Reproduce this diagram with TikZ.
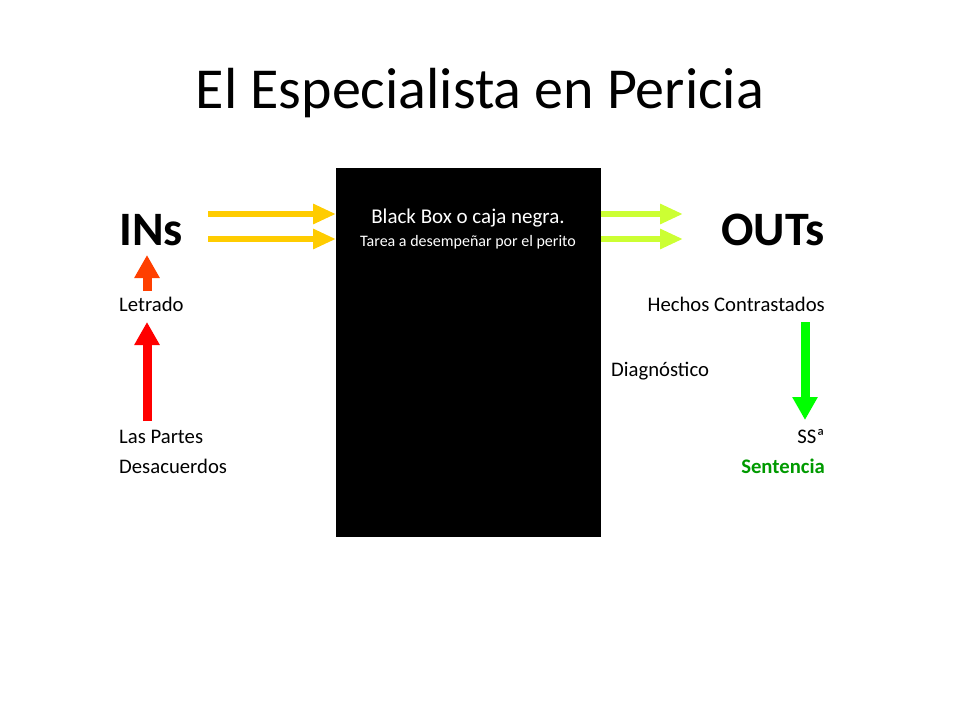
\documentclass[tikz,border=0pt]{standalone}
\usepackage{fontspec}
\setmainfont{Carlito}
\usetikzlibrary{arrows.meta}
\usetikzlibrary{positioning}
\usepackage{xcolor}

\definecolor{amarillo}{HTML}{FFCC00}
\definecolor{lima}{HTML}{CCFF33}
\definecolor{naranja}{HTML}{FF3F00}
\definecolor{rojo}{HTML}{FF0000}
\definecolor{verde}{HTML}{00FF00}
\definecolor{verdeosc}{HTML}{009A00}

\begin{document}
\begin{tikzpicture}[x=1pt, y=-1pt]
        % ================= estilos =================
        \tikzset{
            % textos
            titulo/.style={inner sep=0pt, font=\fontsize{58}{64}\selectfont},
            grande/.style={inner sep=0pt, font=\fontsize{48}{54}\selectfont\bfseries},
            etiqueta/.style={inner sep=0pt, font=\fontsize{20.7}{24}\selectfont},
            cajatxt/.style={inner sep=0pt, text=white, font=\fontsize{21}{24}\selectfont},
            cajasub/.style={inner sep=0pt, text=white, font=\fontsize{16}{19}\selectfont},
            % flechas gruesas
            flecha_h/.style={line width=6pt, -{Triangle[length=23pt, width=19pt]}},
            flecha_v/.style={line width=9pt, -{Triangle[length=23pt, width=24pt]}}
        }

        \useasboundingbox (0,0) rectangle (960,720);

        % ================= caja negra =================
        \fill[black] (336,168) rectangle (601,537);
        \coordinate (caja_w1) at (336,214);
        \coordinate (caja_w2) at (336,239);
        \coordinate (caja_e1) at (601,214);
        \coordinate (caja_e2) at (601,239);

        % ================= coordenadas de flechas =================
        \coordinate (in_1) at (208,214);
        \coordinate (in_2) at (208,239);
        \coordinate (out_1) at (683,214);
        \coordinate (out_2) at (683,239);
        \coordinate (letr_b) at (147,291);
        \coordinate (letr_t) at (147,255);
        \coordinate (part_b) at (147,421);
        \coordinate (part_t) at (147,322);
        \coordinate (hech_t) at (805,322);
        \coordinate (ssa_t) at (805,420);

        % ================= flechas =================
        \draw[flecha_h, amarillo] (in_1) -- (caja_w1);
        \draw[flecha_h, amarillo] (in_2) -- (caja_w2);
        \draw[flecha_h, lima] (caja_e1) -- (out_1);
        \draw[flecha_h, lima] (caja_e2) -- (out_2);
        \draw[flecha_v, naranja] (letr_b) -- (letr_t);
        \draw[flecha_v, rojo] (part_b) -- (part_t);
        \draw[flecha_v, verde] (hech_t) -- (ssa_t);

        % ================= textos =================
        \node[titulo, anchor=base] (tit) at (480,108.5) {El Especialista en Pericia};

        \node[grande, anchor=base west] (ins) at (119,245) {INs};
        \node[grande, anchor=base east] (outs) at (825,245) {OUTs};

        \node[cajatxt, anchor=base] (bbox) at (468,223) {Black Box o caja negra.};
        \node[cajasub, anchor=base] (tarea) at (468,246.5) {Tarea a desempeñar por el perito};

        \node[etiqueta, anchor=base west] (letrado) at (119,311.7) {Letrado};
        \node[etiqueta, anchor=base west] (partes) at (119,443.5) {Las Partes};
        \node[etiqueta, anchor=base west] (desac) at (119,473.5) {Desacuerdos};

        \node[etiqueta, anchor=base east] (hechos) at (825,311.7) {Hechos Contrastados};
        \node[etiqueta, anchor=base west] (diag) at (611,376.5) {Diagnóstico};
        \node[etiqueta, anchor=base east] (ssa) at (825,443.5) {SSª};
        \node[etiqueta, anchor=base east, font=\fontsize{20.7}{24}\selectfont\bfseries, text=verdeosc] (sent) at (825,473.5) {Sentencia};

    \end{tikzpicture}
\end{document}
